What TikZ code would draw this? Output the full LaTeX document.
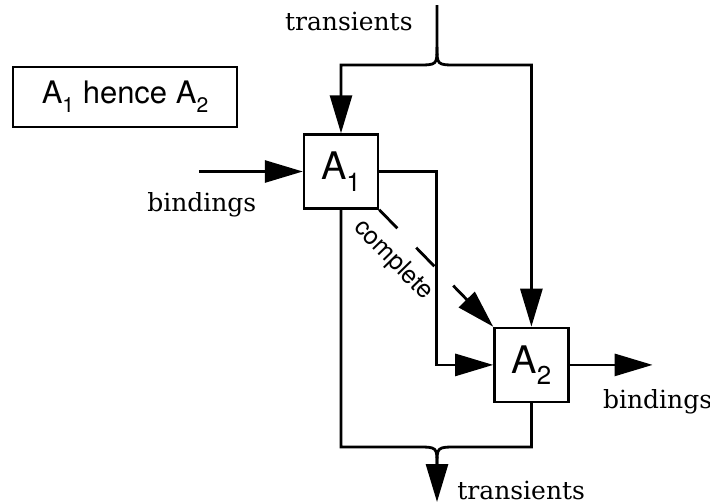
\documentclass[tikz,border=0pt]{standalone}
\usepackage{fontspec}
\setsansfont{TeX Gyre Heros}
\newfontfamily\labfont{DejaVu Serif}
\newcommand{\ix}[1]{\raisebox{-0.3em}{\scalebox{0.68}{#1}}}
\usetikzlibrary{arrows.meta, positioning, calc}
\tikzset{
  Bx/.style={draw, line width=1.2pt, minimum width=37pt, minimum height=37pt,
    inner sep=0pt, font=\fontsize{19}{19}\sffamily},
  key/.style={draw, line width=1.2pt, minimum width=112pt, minimum height=30pt,
    inner sep=0pt, font=\fontsize{15.5}{15.5}\sffamily},
  L/.style={line width=1.4pt},
  A/.style={L, -{Triangle[length=19pt,width=11pt]}},
  Ad/.style={A, dash pattern=on 13pt off 13.5pt},
  lab/.style={font=\fontsize{12.5}{12.5}\labfont, inner sep=0pt},
  cmpl/.style={font=\fontsize{12.5}{12.5}\sffamily, inner sep=0pt},
}
\begin{document}
\begin{tikzpicture}[x=0.5pt, y=-0.5pt]
\useasboundingbox (0,0) rectangle (710,503);

% ── KEY ──────────────────────────────────────────────────────────────
\node[key] (hence) at (125,97) {A\ix{1} hence A\ix{2}};

% ── BLOCKS ───────────────────────────────────────────────────────────
\node[Bx] (a1) at (341,171.5) {A\ix{1}};
\node[Bx, below right=58.5pt and 57pt of a1] (a2) {A\ix{2}};

% junctions of the transient lines
\coordinate (tin)  at (437,5);
\coordinate (jt)   at (437,65);
\coordinate (jb)   at (437,447);
\coordinate (tout) at (437,502);
\coordinate[left=52pt of a1]    (bin);
\coordinate[right=41.5pt of a2] (bout);

% ── TRANSIENTS IN (split) ────────────────────────────────────────────
\draw[A] (tin) -- ($(jt)+(0,-18)$) .. controls (jt) .. ($(jt)+(-20,0)$) -| (a1.north);
\draw[A] ($(jt)+(0,-18)$) .. controls (jt) .. ($(jt)+(20,0)$) -| (a2.north);
\node[lab, below left=3.5pt and 12pt of tin] {transients};

% ── BINDINGS ─────────────────────────────────────────────────────────
\draw[A] (bin) -- (a1.west);
\node[lab, below=10.5pt of bin, xshift=1.5pt] {bindings};
\draw[A] (a2.east) -- (bout);
\node[lab, below=12pt of bout, xshift=2.5pt] {bindings};

% ── A1 -> A2 ─────────────────────────────────────────────────────────
\draw[A] (a1.east) -| ($(a1.east)!0.5!(a2.west)$) |- (a2.west);
\draw[Ad] (a1.south east) -- (a2.north west)
  node[cmpl, pos=0.28, sloped, below=6pt] {complete};

% ── TRANSIENTS OUT (merge) ───────────────────────────────────────────
\draw[A] (a1.south) |- ($(jb)+(-20,0)$) .. controls (jb) .. ($(jb)+(0,18)$) -- (tout);
\draw[L] (a2.south) |- ($(jb)+(20,0)$) .. controls (jb) .. ($(jb)+(0,18)$);
\node[lab, above right=1pt and 10pt of tout] {transients};

\end{tikzpicture}
\end{document}
